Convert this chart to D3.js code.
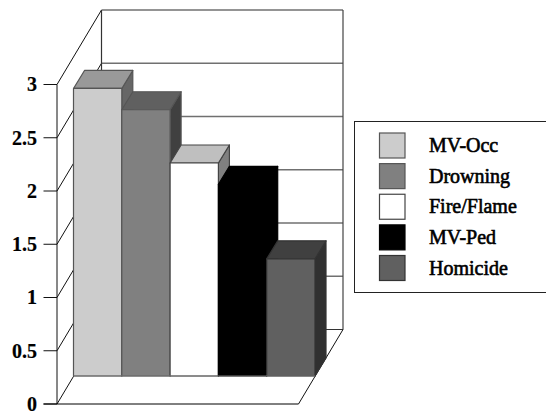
<!DOCTYPE html>
<html><head><meta charset="utf-8">
<script src="https://cdn.jsdelivr.net/npm/d3@7"></script>
<style>html,body{margin:0;background:#fff;overflow:hidden}svg{display:block}text{font-family:"Liberation Serif",serif;fill:#000;stroke:#000}.tick{font-weight:bold;stroke-width:.2px}.leg{font-weight:normal;stroke-width:.6px}</style>
</head><body><svg id="c" width="546" height="412"></svg>
<script>
const categories=["MV-Occ","Drowning","Fire/Flame","MV-Ped","Homicide"];
const values=[2.7,2.5,2.0,1.8,1.1];
const tickValues=[0,0.5,1,1.5,2,2.5,3];
const frontFill=["#cccccc","#808080","#ffffff","#000000","#606060"];
const topFill=["#999999","#606060","#bfbfbf","#000000","#404040"];
const sideFill=["#666666","#404040","#808080","#000000","#303030"];
const strokeCol=["#555555","#555555","#444444","#000000","#333333"];

const svg=d3.select("#c");
const y=d3.scaleLinear().domain([0,3]).range([404,84.5]);
const x=d3.scaleBand().domain(categories).range([73.5,315]);
const depth={dx:44.5,dy:74.5}, bd={dx:11,dy:18}, inset={dx:16.5,dy:28};
const left=57,right=298.5;
const line=(a,b,c,d,col,w=1)=>svg.append("line").attr("x1",a).attr("y1",b).attr("x2",c).attr("y2",d).attr("stroke",col).attr("stroke-width",w);

// walls
tickValues.forEach(t=>{
  const yy=y(t);
  if(t>0) line(left+depth.dx,yy-depth.dy,right+depth.dx,yy-depth.dy,"#707070",1.4);
  line(left,yy,left+depth.dx,yy-depth.dy,"#111",1);
  line(left-13.5,yy,left,yy,"#111",1);
  svg.append("text").attr("class","tick").attr("x",37).attr("y",yy+6.8).attr("text-anchor","end").attr("font-size",20).text(t);
});
line(left,y(0),left,y(3),"#111",1);
line(left+depth.dx,y(3)-depth.dy,left+depth.dx,y(0)-depth.dy,"#333",1.2);
line(right+depth.dx,y(3)-depth.dy,right+depth.dx,y(0)-depth.dy,"#444",1.2);
line(left+depth.dx,y(0)-depth.dy,right+depth.dx,y(0)-depth.dy,"#333",1);
line(right,y(0),right+depth.dx,y(0)-depth.dy,"#111",1);
line(left-13.5,y(0),right,y(0),"#000",1);

// bars
const y0=y(0)-inset.dy;
const base=d=>y0-(y(0)-y(d));
categories.forEach((c,i)=>{
  const g=svg.append("g").attr("stroke",strokeCol[i]).attr("stroke-width",1.2).attr("stroke-linejoin","round");
  const x0=x(c),x1=x0+x.bandwidth(),t=base(values[i]);
  g.append("path").attr("fill",sideFill[i]).attr("d",d3.line()([[x1,t],[x1+bd.dx,t-bd.dy],[x1+bd.dx,y0-bd.dy],[x1,y0]])+"Z");
  g.append("path").attr("fill",topFill[i]).attr("d",d3.line()([[x0,t],[x0+bd.dx,t-bd.dy],[x1+bd.dx,t-bd.dy],[x1,t]])+"Z");
  g.append("rect").attr("x",x0).attr("y",t).attr("width",x.bandwidth()).attr("height",y0-t).attr("fill",frontFill[i]);
});
line(73.5,y0,right+16.5,y0,"#777",1);

// legend: the box runs off the right edge of the picture
svg.append("rect").attr("x",354.5).attr("y",121.5).attr("width",200).attr("height",171).attr("fill","#fff").attr("stroke","#222");
const ly=d3.scalePoint().domain(categories).range([133,255.5]);
categories.forEach((c,i)=>{
  svg.append("rect").attr("x",379.5).attr("y",ly(c)).attr("width",25.5).attr("height",25).attr("fill",frontFill[i]).attr("stroke",strokeCol[i]).attr("stroke-width",1.2);
  svg.append("text").attr("class","leg").attr("x",429).attr("y",ly(c)+19).attr("font-size",20).text(c);
});
</script></body></html>
